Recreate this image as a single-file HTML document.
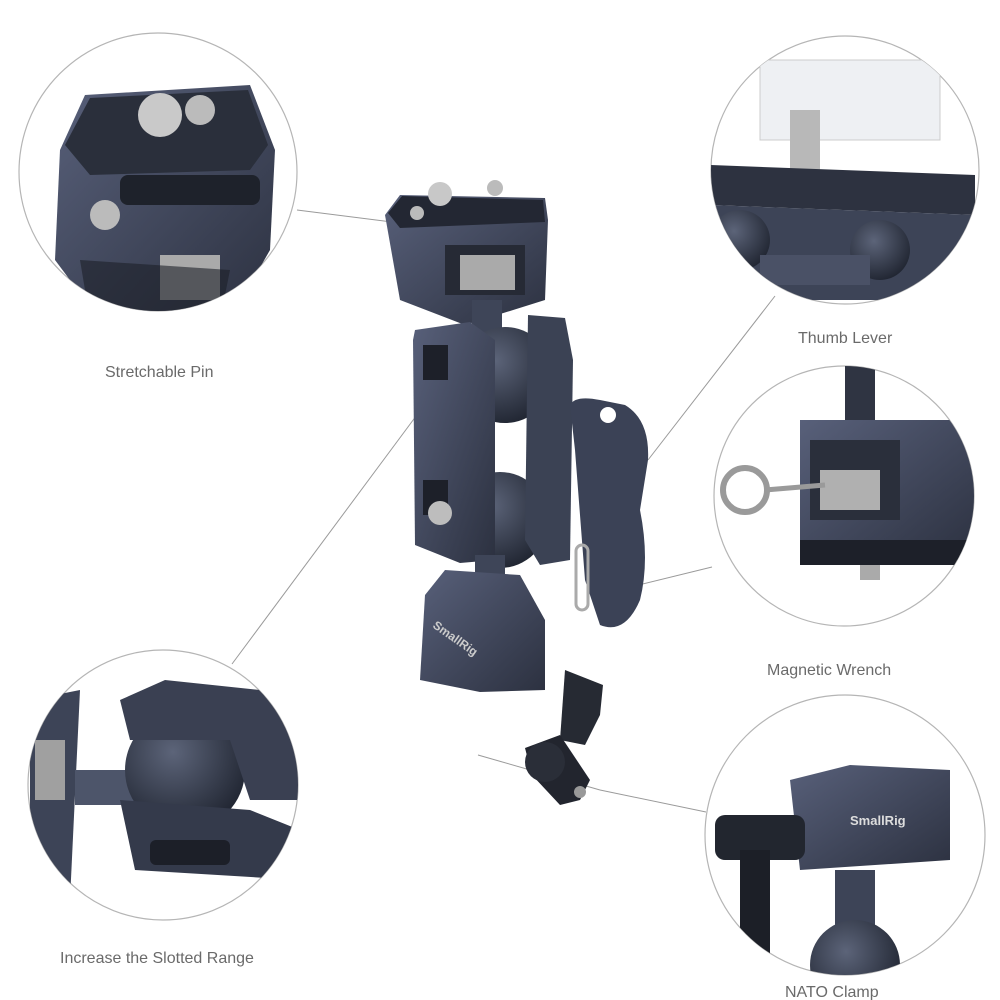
<!DOCTYPE html>
<html><head><meta charset="utf-8"><style>
html,body{margin:0;padding:0;background:#fff;width:1000px;height:1000px;overflow:hidden}
svg{display:block}
text{font-family:"Liberation Sans",sans-serif;fill:#6a6a6a;font-size:16px}
</style></head><body>
<svg width="1000" height="1000" viewBox="0 0 1000 1000">
<defs>
<radialGradient id="ball" cx="0.4" cy="0.35" r="0.7"><stop offset="0" stop-color="#5c6479"/><stop offset="1" stop-color="#1f2430"/></radialGradient>
<linearGradient id="metal" x1="0" y1="0" x2="1" y2="1"><stop offset="0" stop-color="#58607a"/><stop offset="1" stop-color="#2c3140"/></linearGradient>
<clipPath id="c1"><circle cx="158" cy="172" r="139"/></clipPath>
<clipPath id="c2"><circle cx="845" cy="170" r="134"/></clipPath>
<clipPath id="c3"><circle cx="844" cy="496" r="130"/></clipPath>
<clipPath id="c4"><circle cx="163" cy="785" r="135"/></clipPath>
<clipPath id="c5"><circle cx="845" cy="835" r="140"/></clipPath>
</defs>
<g stroke="#9a9a9a" stroke-width="1" fill="none">
<line x1="297" y1="210" x2="392" y2="222"/>
<line x1="775" y1="296" x2="648" y2="460"/>
<line x1="712" y1="567" x2="618" y2="590"/>
<line x1="232" y1="664" x2="428" y2="400"/>
<line x1="600" y1="790" x2="706" y2="812"/>
<line x1="478" y1="755" x2="600" y2="790"/>
</g>
<g fill="none" stroke="#b5b5b5" stroke-width="1.2">
<circle cx="158" cy="172" r="139"/>
<circle cx="845" cy="170" r="134"/>
<circle cx="844" cy="496" r="130"/>
<circle cx="163" cy="785" r="135"/>
<circle cx="845" cy="835" r="140"/>
</g>
<g clip-path="url(#c1)">
<path d="M60 150 L85 95 L250 85 L275 150 L270 250 L230 320 L100 320 L55 260Z" fill="url(#metal)"/>
<path d="M65 145 L90 98 L248 90 L268 145 L250 170 L90 175Z" fill="#2a2f3b"/>
<rect x="120" y="175" width="140" height="30" rx="8" fill="#1e222b"/>
<circle cx="160" cy="115" r="22" fill="#c9c9c9"/><circle cx="200" cy="110" r="15" fill="#bbb"/><circle cx="105" cy="215" r="15" fill="#bbb"/>
<rect x="160" y="255" width="60" height="45" fill="#aaa"/>
<path d="M80 260 L230 270 L220 320 L90 320Z" fill="#1c1f28" opacity="0.6"/>
</g>
<g clip-path="url(#c2)">
<rect x="760" y="60" width="180" height="80" fill="#eef0f3" stroke="#ccc"/>
<rect x="790" y="110" width="30" height="60" fill="#b8b8b8"/>
<path d="M710 165 L975 175 L975 215 L710 205Z" fill="#2d3240"/>
<path d="M710 205 L975 215 L975 300 L710 300Z" fill="#3d4457"/>
<circle cx="740" cy="240" r="30" fill="url(#ball)"/><circle cx="880" cy="250" r="30" fill="url(#ball)"/>
<rect x="760" y="255" width="110" height="30" fill="#4a5166"/>
</g>
<g clip-path="url(#c3)">
<rect x="845" y="365" width="30" height="60" fill="#2f3442"/>
<path d="M800 420 L950 420 L975 450 L975 560 L800 560Z" fill="url(#metal)"/>
<rect x="810" y="440" width="90" height="80" fill="#2a2f3b"/>
<rect x="820" y="470" width="60" height="40" fill="#b0b0b0"/>
<circle cx="745" cy="490" r="22" fill="none" stroke="#9a9a9a" stroke-width="6"/>
<line x1="765" y1="490" x2="825" y2="485" stroke="#9a9a9a" stroke-width="5"/>
<rect x="800" y="540" width="175" height="25" fill="#1d2029"/>
<rect x="860" y="565" width="20" height="15" fill="#aaa"/>
</g>
<g clip-path="url(#c4)">
<path d="M30 700 L80 690 L70 900 L30 900Z" fill="#3d4457"/>
<rect x="35" y="740" width="30" height="60" fill="#a0a0a0"/>
<rect x="75" y="770" width="80" height="35" fill="#4d556a"/>
<circle cx="185" cy="770" r="60" fill="url(#ball)"/>
<path d="M120 700 L165 680 L260 690 L300 740 L300 800 L250 800 L230 740 L130 740Z" fill="#3a4052"/>
<path d="M120 800 L250 810 L300 830 L300 880 L135 870Z" fill="#343a4b"/>
<rect x="150" y="840" width="80" height="25" rx="6" fill="#1c1f28"/>
</g>
<g clip-path="url(#c5)">
<path d="M790 780 L850 765 L950 770 L950 860 L800 870Z" fill="url(#metal)"/>
<text x="850" y="825" style="font-size:13px;fill:#ddd;font-weight:bold">SmallRig</text>
<rect x="715" y="815" width="90" height="45" rx="10" fill="#22262f"/>
<path d="M740 850 L770 850 L770 980 L740 980Z" fill="#1c1f27"/>
<rect x="835" y="870" width="40" height="60" fill="#3d4457"/>
<circle cx="855" cy="965" r="45" fill="url(#ball)"/>
</g>
<g>
<path d="M385 215 L400 195 L545 198 L548 220 L545 300 L465 325 L400 300Z" fill="url(#metal)"/>
<path d="M388 213 L402 196 L543 200 L545 222 L400 228Z" fill="#232733"/>
<circle cx="440" cy="194" r="12" fill="#c8c8c8"/><circle cx="495" cy="188" r="8" fill="#bbb"/><circle cx="417" cy="213" r="7" fill="#bbb"/>
<rect x="445" y="245" width="80" height="50" fill="#262a35"/>
<rect x="460" y="255" width="55" height="35" fill="#aaa"/>
<rect x="472" y="300" width="30" height="60" fill="#3e4558"/>
<circle cx="505" cy="375" r="48" fill="url(#ball)"/>
<circle cx="500" cy="520" r="48" fill="url(#ball)"/>
<path d="M415 330 L470 322 L495 340 L495 560 L460 563 L415 545 L413 340Z" fill="url(#metal)"/>
<rect x="423" y="345" width="25" height="35" fill="#1d2029"/>
<rect x="423" y="480" width="25" height="35" fill="#1d2029"/>
<circle cx="440" cy="513" r="12" fill="#bdbdbd"/>
<path d="M528 315 L565 318 L573 360 L570 560 L540 565 L525 540Z" fill="#3b4254"/>
<path d="M570 405 Q575 395 600 400 L625 405 Q650 420 648 460 L640 510 Q650 560 640 600 Q625 635 600 625 L585 580 L575 450Z" fill="#3b4256"/>
<circle cx="608" cy="415" r="8" fill="#fff"/>
<rect x="576" y="545" width="12" height="65" rx="6" fill="none" stroke="#aaa" stroke-width="3"/>
<rect x="475" y="555" width="30" height="25" fill="#3e4558"/>
<path d="M420 680 L425 595 L445 570 L520 575 L545 620 L545 690 L480 692Z" fill="url(#metal)"/>
<text x="432" y="627" transform="rotate(35 432 627)" style="font-size:12px;fill:#ccc;font-weight:bold">SmallRig</text>
<path d="M565 670 L603 685 L600 715 L585 745 L560 740Z" fill="#262a33"/>
<path d="M525 748 L560 735 L590 780 L580 800 L560 805 L532 775Z" fill="#22252e"/>
<circle cx="545" cy="762" r="20" fill="#2a2e38"/>
<circle cx="580" cy="792" r="6" fill="#999"/>
</g>
<text x="105" y="377">Stretchable Pin</text>
<text x="798" y="343">Thumb Lever</text>
<text x="767" y="675">Magnetic Wrench</text>
<text x="60" y="963">Increase the Slotted Range</text>
<text x="785" y="997">NATO Clamp</text>
</svg>
</body></html>
